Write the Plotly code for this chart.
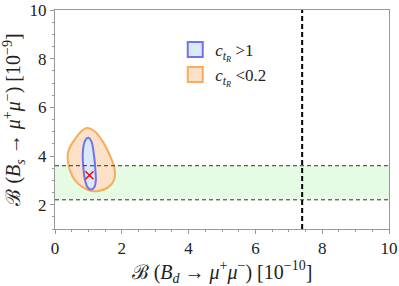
import plotly.graph_objects as go

# Contour of c_tR < 0.2 region (Bd, Bs)
orange_x = [0.95, 1.2, 1.45, 1.65, 1.78, 1.78, 1.6, 1.3, 1.1, 0.85, 0.6, 0.45, 0.38, 0.4, 0.55, 0.78, 0.95]
orange_y = [5.15, 5.0, 4.55, 4.0, 3.5, 3.05, 2.72, 2.56, 2.56, 2.7, 3.0, 3.4, 3.85, 4.2, 4.6, 5.0, 5.15]
# Contour of c_tR > 1 region
blue_x = [1.0, 1.09, 1.17, 1.21, 1.22, 1.17, 1.07, 0.97, 0.9, 0.85, 0.83, 0.86, 0.93, 1.0]
blue_y = [4.75, 4.6, 4.0, 3.4, 2.95, 2.7, 2.62, 2.72, 3.0, 3.5, 4.0, 4.45, 4.7, 4.75]
# SM point
sm_x = [1.03]
sm_y = [3.21]
# Experimental band for Bs and limit for Bd
bs_lo, bs_hi = 2.2, 3.6
bd_limit = 7.4

serif = "Liberation Serif"

orange_line, orange_fill = "#f8ac5c", "rgba(252,222,196,0.92)"
blue_line, blue_fill = "#6f73ee", "#dbe8f8"

fig = go.Figure()
fig.add_shape(type="rect", x0=0, x1=10, y0=bs_lo, y1=bs_hi, xref="x", yref="y",
              fillcolor="#e6fbe3", line=dict(width=0), layer="below")
for yv in (bs_lo, bs_hi):
    fig.add_shape(type="line", x0=0, x1=10, y0=yv, y1=yv, xref="x", yref="y",
                  line=dict(color="#333333", width=1, dash="4px,3px"))
fig.add_shape(type="line", x0=bd_limit, x1=bd_limit, y0=1, y1=10, xref="x", yref="y",
              line=dict(color="black", width=2, dash="5px,3px"))

fig.add_trace(go.Scatter(x=orange_x, y=orange_y, mode="lines", fill="toself",
                         line=dict(color=orange_line, width=2, shape="spline"),
                         fillcolor=orange_fill, showlegend=False, hoverinfo="skip"))
fig.add_trace(go.Scatter(x=blue_x, y=blue_y, mode="lines", fill="toself",
                         line=dict(color=blue_line, width=2, shape="spline"),
                         fillcolor=blue_fill, showlegend=False, hoverinfo="skip"))
fig.add_trace(go.Scatter(x=sm_x, y=sm_y, mode="markers",
                         marker=dict(symbol="x-thin", size=8, line=dict(color="red", width=1.5)),
                         showlegend=False, hoverinfo="skip"))
# legend entries
fig.add_trace(go.Scatter(x=[None], y=[None], mode="markers",
                         marker=dict(symbol="square", size=15, color=blue_fill,
                                     line=dict(color=blue_line, width=2)),
                         name="<i>c</i><sub><i>t</i><sub><i>R</i></sub></sub> >1"))
fig.add_trace(go.Scatter(x=[None], y=[None], mode="markers",
                         marker=dict(symbol="square", size=15, color=orange_fill,
                                     line=dict(color=orange_line, width=2)),
                         name="<i>c</i><sub><i>t</i><sub><i>R</i></sub></sub> <0.2"))

axis_common = dict(showline=True, linecolor="#999999", linewidth=1, mirror=True,
                   ticks="outside", ticklen=4, tickcolor="#999999",
                   showgrid=False, zeroline=False, automargin=False,
                   tickfont=dict(family=serif, size=17, color="#222222"),
                   minor=dict(ticks="outside", ticklen=2, tickcolor="#999999", dtick=0.5))

fig.update_xaxes(range=[0, 10], dtick=2, tick0=0,
                 title=dict(text="ℬ (<i>B</i><sub><i>d</i></sub> → <i>μ</i><sup>+</sup><i>μ</i><sup>−</sup>) [10<sup>−10</sup>]",
                            font=dict(family=serif, size=20, color="#222222"), standoff=7),
                 **axis_common)
fig.update_yaxes(range=[1, 10], dtick=2, tick0=0,
                 title=dict(text="ℬ (<i>B</i><sub><i>s</i></sub> → <i>μ</i><sup>+</sup><i>μ</i><sup>−</sup>) [10<sup>−9</sup>]",
                            font=dict(family=serif, size=20, color="#222222"), standoff=5),
                 **axis_common)

fig.update_layout(width=399, height=286, margin=dict(l=55, r=10, t=10, b=57),
                  plot_bgcolor="white", paper_bgcolor="white",
                  font=dict(family=serif),
                  legend=dict(x=0.36, y=0.9, xanchor="left", yanchor="top",
                              bgcolor="rgba(0,0,0,0)",
                              font=dict(family=serif, size=17, color="#222222"),
                              tracegroupgap=2, itemwidth=30))
fig.write_html("out.html", config={"displayModeBar": False},
               post_script="document.body.style.margin='0';document.body.style.padding='0';")
